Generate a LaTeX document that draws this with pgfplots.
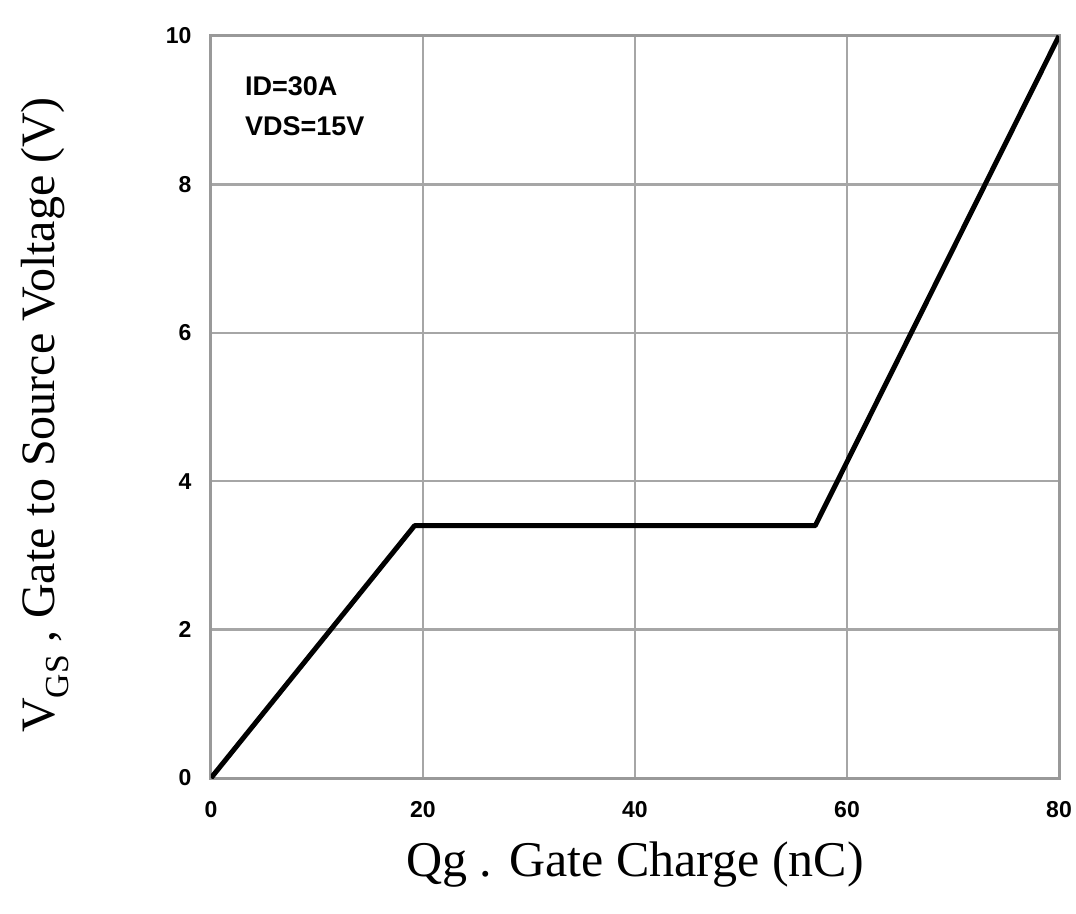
\documentclass[border=0pt]{standalone}
\usepackage{pgfplots}
\pgfplotsset{compat=1.18}
\usepackage{fontspec}
\setmainfont{Liberation Serif}
\newfontfamily\arial{Liberation Sans}
\begin{document}
\begin{tikzpicture}
\begin{axis}[
  scale only axis, width=848pt, height=742pt,
  xmin=0, xmax=80, ymin=0, ymax=10,
  xtick={0,20,40,60,80}, ytick={0,2,4,6,8,10},
  grid=major, grid style={black!35, line width=2.5pt},
  axis line style={black!40, line width=3pt},
  tick style={draw=none},
  /pgf/number format/assume math mode=true,
  ticklabel style={font=\arial\bfseries\fontsize{23}{23}\selectfont},
  xticklabel style={yshift=-20pt},
  yticklabel style={xshift=-16pt},
  xlabel={Qg . Gate Charge (nC)},
  ylabel={V\textsubscript{GS} , Gate to Source Voltage (V)},
  xlabel style={font=\fontsize{50}{54}\selectfont, at={([yshift=-87pt]axis description cs:0.5,0)}, anchor=center},
  ylabel style={font=\fontsize{48}{52}\selectfont, at={([xshift=-166pt,yshift=-8pt]axis description cs:0,0.5)}, anchor=center},
]
\addplot[black, line width=5pt, line join=round] coordinates {(0,0) (19.2,3.4) (57,3.4) (80,10)};
\node[anchor=north west, align=left, inner sep=0pt, font=\arial\bfseries\fontsize{27}{40}\selectfont] at (axis cs:3.2,9.45) {ID=30A\\VDS=15V};
\end{axis}
\pgfresetboundingbox
\path ([shift={(-211pt,-135pt)}]current axis.south west) rectangle ([shift={(17pt,36pt)}]current axis.north east);
\end{tikzpicture}
\end{document}
